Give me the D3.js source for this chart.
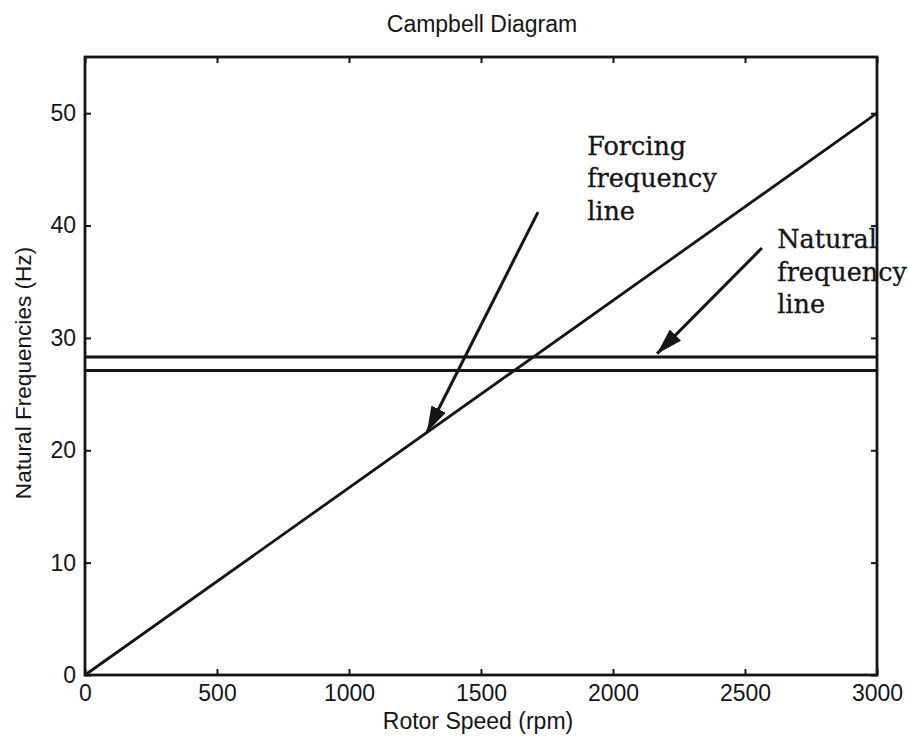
<!DOCTYPE html>
<html>
<head>
<meta charset="utf-8">
<script src="https://cdn.jsdelivr.net/npm/d3@7"></script>
<style>
  html, body { margin: 0; padding: 0; background: #fff; }
  svg { display: block; }
</style>
</head>
<body>
<svg id="chart" width="908" height="740"></svg>
<script>
// ---- data ----
const xTicks = [0, 500, 1000, 1500, 2000, 2500, 3000];
const yTicks = [0, 10, 20, 30, 40, 50];
const xDomain = [0, 3000];
const yDomain = [0, 55];
// Forcing frequency line (rpm -> Hz)
const forcingSpeed = [0, 3000];
const forcingFreq = [0, 50];
// Natural frequency lines (constant)
const naturalFreqs = [28.3, 27.1];
// Annotations (data coordinates)
const arrowNames = ["forcing", "natural"];
const arrowFrom = [[1716, 41.2], [2564, 38.0]];
const arrowTo = [[1295, 21.6], [2167, 28.6]];
const labelNames = ["forcing", "natural"];
const labelLines = [["Forcing", "frequency", "line"], ["Natural", "frequency", "line"]];
const labelAnchor = [[1902, 46.3], [2622, 38.0]];

// ---- layout ----
const svg = d3.select("#chart");
const m = { left: 85, right: 877, top: 57, bottom: 675 };
const x = d3.scaleLinear().domain(xDomain).range([m.left, m.right]);
const y = d3.scaleLinear().domain(yDomain).range([m.bottom, m.top]);
const ink = "#151515";

svg.append("rect").attr("width", 908).attr("height", 740).attr("fill", "#fff");

// frame
svg.append("rect")
  .attr("x", m.left).attr("y", m.top)
  .attr("width", m.right - m.left).attr("height", m.bottom - m.top)
  .attr("fill", "none").attr("stroke", ink).attr("stroke-width", 2.8);

const tickFont = "'Liberation Sans', Arial, sans-serif";
const fmt = d3.format("d");

// axes with inward ticks
const xAxisB = d3.axisBottom(x).tickValues(xTicks).tickFormat(fmt).tickSizeInner(-6).tickSizeOuter(0).tickPadding(10);
const gxb = svg.append("g").attr("transform", `translate(0,${m.bottom})`).call(xAxisB);
const xAxisT = d3.axisTop(x).tickValues(xTicks).tickSizeInner(-6).tickSizeOuter(0).tickFormat("");
const gxt = svg.append("g").attr("transform", `translate(0,${m.top})`).call(xAxisT);
const yAxisL = d3.axisLeft(y).tickValues(yTicks).tickFormat(fmt).tickSizeInner(-6).tickSizeOuter(0).tickPadding(9);
const gyl = svg.append("g").attr("transform", `translate(${m.left},0)`).call(yAxisL);
const yAxisR = d3.axisRight(y).tickValues(yTicks).tickSizeInner(-6).tickSizeOuter(0).tickFormat("");
const gyr = svg.append("g").attr("transform", `translate(${m.right},0)`).call(yAxisR);

[gxb, gxt, gyl, gyr].forEach(g => {
  g.select(".domain").remove();
  g.selectAll(".tick line").attr("stroke", ink).attr("stroke-width", 2);
  g.selectAll(".tick text").attr("fill", ink).attr("font-family", tickFont).attr("font-size", 23);
});
gxb.selectAll(".tick text").attr("dy", "0.71em");

// forcing line
const line = d3.line().x(d => x(d[0])).y(d => y(d[1]));
svg.append("path")
  .datum(forcingSpeed.map((s, i) => [s, forcingFreq[i]]))
  .attr("d", line)
  .attr("fill", "none").attr("stroke", ink).attr("stroke-width", 2.8);

// natural frequency lines
svg.selectAll(".nat").data(naturalFreqs).enter().append("line")
  .attr("class", "nat")
  .attr("x1", x(xDomain[0])).attr("x2", x(xDomain[1]))
  .attr("y1", d => y(d)).attr("y2", d => y(d))
  .attr("stroke", ink).attr("stroke-width", 2.8);

// arrows
svg.append("defs").append("marker")
  .attr("id", "head")
  .attr("viewBox", "0 0 26 16")
  .attr("refX", 26).attr("refY", 8)
  .attr("markerWidth", 26).attr("markerHeight", 16)
  .attr("markerUnits", "userSpaceOnUse")
  .attr("orient", "auto")
  .append("path").attr("d", "M0,0 L26,8 L0,16 Z").attr("fill", ink);

arrowNames.forEach((n, i) => {
  svg.append("line")
    .attr("x1", x(arrowFrom[i][0])).attr("y1", y(arrowFrom[i][1]))
    .attr("x2", x(arrowTo[i][0])).attr("y2", y(arrowTo[i][1]))
    .attr("stroke", ink).attr("stroke-width", 3)
    .attr("marker-end", "url(#head)");
});

// annotation labels
labelNames.forEach((n, i) => {
  const t = svg.append("text")
    .attr("x", x(labelAnchor[i][0])).attr("y", y(labelAnchor[i][1]))
    .attr("font-family", "'DejaVu Serif', serif").attr("font-size", 25.5).attr("fill", ink)
    .attr("stroke", ink).attr("stroke-width", 0.3);
  labelLines[i].forEach((s, j) => {
    t.append("tspan").attr("x", x(labelAnchor[i][0])).attr("dy", j === 0 ? 0 : 32.5).text(s);
  });
});

// titles
svg.append("text").attr("x", 482).attr("y", 32).attr("text-anchor", "middle")
  .attr("font-family", tickFont).attr("font-size", 23).attr("fill", ink).text("Campbell Diagram");
svg.append("text").attr("x", 478).attr("y", 729).attr("text-anchor", "middle")
  .attr("font-family", tickFont).attr("font-size", 23).attr("fill", ink).text("Rotor Speed (rpm)");
svg.append("text").attr("transform", `translate(31,373) rotate(-90)`)
  .attr("text-anchor", "middle")
  .attr("font-family", tickFont).attr("font-size", 22.6).attr("fill", ink).text("Natural Frequencies (Hz)");
</script>
</body>
</html>
